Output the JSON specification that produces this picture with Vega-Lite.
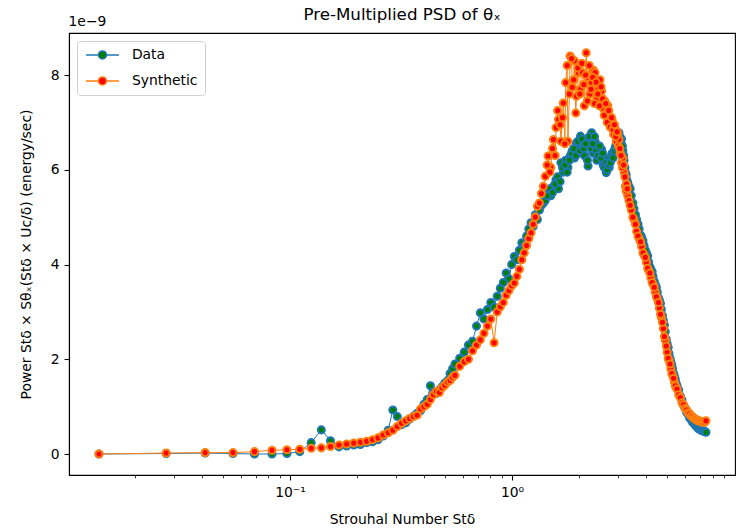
{
"$schema": "https://vega.github.io/schema/vega-lite/v6.json",
"width": 666,
"height": 442,
"autosize": {"type": "none"},
"padding": {"left": 69, "top": 33, "right": 2, "bottom": 54},
"config": {
  "font": "DejaVu Sans",
  "view": {"stroke": "#000000", "strokeWidth": 1.1},
  "axis": {"grid": false, "domainColor": "#000000", "tickColor": "#000000", "labelColor": "#000000", "titleColor": "#000000", "labelFont": "DejaVu Sans", "titleFont": "DejaVu Sans", "labelFontSize": 13.9, "titleFontSize": 13.9, "titleFontWeight": "normal", "tickWidth": 1.1, "domainWidth": 1.1, "tickSize": 5, "labelPadding": 5}
},
"title": {"text": "Pre-Multiplied PSD of θₓ", "font": "DejaVu Sans", "fontSize": 16.7, "fontWeight": "normal", "color": "#000000", "anchor": "middle", "offset": -10},
"data": {"values": [
{"series":"Data","St":0.0138,"power":0.0},{"series":"Data","St":0.0277,"power":0.01},{"series":"Data","St":0.0415,"power":0.02},{"series":"Data","St":0.0554,"power":0.01},{"series":"Data","St":0.0692,"power":0.0},{"series":"Data","St":0.0830,"power":0.0},{"series":"Data","St":0.0969,"power":0.01},{"series":"Data","St":0.1107,"power":0.05},{"series":"Data","St":0.1246,"power":0.24},{"series":"Data","St":0.1384,"power":0.51},{"series":"Data","St":0.1522,"power":0.28},{"series":"Data","St":0.1661,"power":0.15},{"series":"Data","St":0.1799,"power":0.17},{"series":"Data","St":0.1938,"power":0.19},{"series":"Data","St":0.2076,"power":0.20},{"series":"Data","St":0.2214,"power":0.24},{"series":"Data","St":0.2353,"power":0.26},{"series":"Data","St":0.2491,"power":0.30},{"series":"Data","St":0.2630,"power":0.38},{"series":"Data","St":0.2768,"power":0.50},{"series":"Data","St":0.2906,"power":0.93},{"series":"Data","St":0.3045,"power":0.79},{"series":"Data","St":0.3183,"power":0.62},{"series":"Data","St":0.3322,"power":0.66},{"series":"Data","St":0.3460,"power":0.74},{"series":"Data","St":0.3598,"power":0.80},{"series":"Data","St":0.3737,"power":0.86},{"series":"Data","St":0.3875,"power":0.92},{"series":"Data","St":0.4014,"power":1.05},{"series":"Data","St":0.4152,"power":1.15},{"series":"Data","St":0.4290,"power":1.44},{"series":"Data","St":0.4429,"power":1.30},{"series":"Data","St":0.4567,"power":1.28},{"series":"Data","St":0.4706,"power":1.35},{"series":"Data","St":0.4844,"power":1.42},{"series":"Data","St":0.4982,"power":1.50},{"series":"Data","St":0.5121,"power":1.55},{"series":"Data","St":0.5259,"power":1.70},{"series":"Data","St":0.5398,"power":1.80},{"series":"Data","St":0.5536,"power":1.90},
{"series":"Data","St":0.5813,"power":2.02},{"series":"Data","St":0.6090,"power":2.15},{"series":"Data","St":0.6366,"power":2.30},{"series":"Data","St":0.6643,"power":2.38},{"series":"Data","St":0.6920,"power":2.70},{"series":"Data","St":0.7197,"power":2.98},{"series":"Data","St":0.7474,"power":2.85},{"series":"Data","St":0.7750,"power":3.05},{"series":"Data","St":0.8027,"power":3.20},{"series":"Data","St":0.8304,"power":3.10},{"series":"Data","St":0.8581,"power":3.33},{"series":"Data","St":0.8858,"power":3.50},{"series":"Data","St":0.9134,"power":3.62},{"series":"Data","St":0.9411,"power":3.82},{"series":"Data","St":0.9688,"power":3.70},{"series":"Data","St":0.9965,"power":4.00},{"series":"Data","St":1.0242,"power":4.17},{"series":"Data","St":1.0518,"power":4.10},{"series":"Data","St":1.0795,"power":4.30},{"series":"Data","St":1.1072,"power":4.46},{"series":"Data","St":1.1349,"power":4.40},{"series":"Data","St":1.1626,"power":4.60},{"series":"Data","St":1.1902,"power":4.75},{"series":"Data","St":1.2179,"power":4.88},{"series":"Data","St":1.2456,"power":4.80},{"series":"Data","St":1.2733,"power":5.05},{"series":"Data","St":1.3010,"power":4.95},{"series":"Data","St":1.3286,"power":5.15},{"series":"Data","St":1.3563,"power":5.25},{"series":"Data","St":1.3840,"power":5.30},
{"series":"Data","St":1.4117,"power":5.35},{"series":"Data","St":1.4532,"power":5.50},{"series":"Data","St":1.4947,"power":5.45},{"series":"Data","St":1.5362,"power":5.65},{"series":"Data","St":1.5778,"power":5.79},{"series":"Data","St":1.6193,"power":5.60},{"series":"Data","St":1.6608,"power":6.15},{"series":"Data","St":1.7023,"power":5.95},{"series":"Data","St":1.7438,"power":6.20},{"series":"Data","St":1.7854,"power":6.05},{"series":"Data","St":1.8269,"power":6.29},{"series":"Data","St":1.8684,"power":6.40},{"series":"Data","St":1.9099,"power":6.25},{"series":"Data","St":1.9514,"power":6.57},{"series":"Data","St":1.9930,"power":6.45},{"series":"Data","St":2.0345,"power":6.71},{"series":"Data","St":2.0760,"power":6.55},{"series":"Data","St":2.1175,"power":6.30},{"series":"Data","St":2.1590,"power":6.62},{"series":"Data","St":2.2006,"power":6.08},{"series":"Data","St":2.2421,"power":6.50},{"series":"Data","St":2.2836,"power":6.78},{"series":"Data","St":2.3251,"power":6.35},{"series":"Data","St":2.3666,"power":6.60},{"series":"Data","St":2.4082,"power":6.20},{"series":"Data","St":2.4497,"power":6.45},{"series":"Data","St":2.4912,"power":6.30},{"series":"Data","St":2.5327,"power":6.43},{"series":"Data","St":2.5742,"power":6.10},{"series":"Data","St":2.6158,"power":6.25},{"series":"Data","St":2.6573,"power":5.94},{"series":"Data","St":2.6988,"power":6.15},{"series":"Data","St":2.7403,"power":6.05},{"series":"Data","St":2.7818,"power":6.20},{"series":"Data","St":2.8234,"power":6.35},{"series":"Data","St":2.8649,"power":6.30},{"series":"Data","St":2.9064,"power":6.45},{"series":"Data","St":2.9479,"power":6.55},{"series":"Data","St":2.9894,"power":6.40},{"series":"Data","St":3.0310,"power":6.78},{"series":"Data","St":3.0725,"power":6.57},{"series":"Data","St":3.1140,"power":6.65},{"series":"Data","St":3.1555,"power":6.40},{"series":"Data","St":3.1970,"power":6.20},{"series":"Data","St":3.2386,"power":5.95},{"series":"Data","St":3.2801,"power":5.80},{"series":"Data","St":3.3216,"power":5.72},
{"series":"Data","St":1.4394,"power":5.45},{"series":"Data","St":1.4809,"power":5.60},{"series":"Data","St":1.5224,"power":5.52},{"series":"Data","St":1.5639,"power":5.70},{"series":"Data","St":1.6054,"power":5.85},{"series":"Data","St":1.6470,"power":5.75},{"series":"Data","St":1.6885,"power":6.05},{"series":"Data","St":1.7300,"power":6.10},{"series":"Data","St":1.7715,"power":5.95},{"series":"Data","St":1.8130,"power":6.20},{"series":"Data","St":1.8546,"power":6.35},{"series":"Data","St":1.8961,"power":6.45},{"series":"Data","St":1.9376,"power":6.30},{"series":"Data","St":1.9791,"power":6.60},{"series":"Data","St":2.0206,"power":6.40},{"series":"Data","St":2.0622,"power":6.65},{"series":"Data","St":2.1037,"power":6.45},{"series":"Data","St":2.1452,"power":6.55},{"series":"Data","St":2.1867,"power":6.20},{"series":"Data","St":2.2282,"power":6.70},{"series":"Data","St":2.2698,"power":6.45},{"series":"Data","St":2.3113,"power":6.55},{"series":"Data","St":2.3528,"power":6.70},{"series":"Data","St":2.3943,"power":6.40},{"series":"Data","St":2.4358,"power":6.30},{"series":"Data","St":2.4774,"power":6.50},{"series":"Data","St":2.5189,"power":6.25},{"series":"Data","St":2.5604,"power":6.35},{"series":"Data","St":2.6019,"power":6.05},{"series":"Data","St":2.6434,"power":6.15},{"series":"Data","St":2.6850,"power":6.00},{"series":"Data","St":2.7265,"power":6.10},{"series":"Data","St":2.7680,"power":6.15},{"series":"Data","St":2.8095,"power":6.30},{"series":"Data","St":2.8510,"power":6.25},{"series":"Data","St":2.8926,"power":6.40},{"series":"Data","St":2.9341,"power":6.50},{"series":"Data","St":2.9756,"power":6.45},{"series":"Data","St":3.0171,"power":6.60},{"series":"Data","St":3.0586,"power":6.70},{"series":"Data","St":3.1002,"power":6.55},{"series":"Data","St":3.1417,"power":6.50},{"series":"Data","St":3.1832,"power":6.30},{"series":"Data","St":3.2247,"power":6.05},{"series":"Data","St":3.2662,"power":5.90},{"series":"Data","St":3.3078,"power":5.75},
{"series":"Data","St":3.3631,"power":5.65},{"series":"Data","St":3.4462,"power":5.45},{"series":"Data","St":3.5430,"power":5.18},{"series":"Data","St":3.6399,"power":4.95},{"series":"Data","St":3.7368,"power":4.75},{"series":"Data","St":3.8337,"power":4.58},{"series":"Data","St":3.9306,"power":4.40},{"series":"Data","St":4.0274,"power":4.25},{"series":"Data","St":4.1243,"power":4.05},{"series":"Data","St":4.2212,"power":3.90},{"series":"Data","St":4.3181,"power":3.75},{"series":"Data","St":4.4150,"power":3.58},{"series":"Data","St":4.5118,"power":3.42},{"series":"Data","St":4.6087,"power":3.25},{"series":"Data","St":4.7056,"power":3.05},{"series":"Data","St":4.8025,"power":2.82},{"series":"Data","St":4.8994,"power":2.58},{"series":"Data","St":4.9962,"power":2.33},{"series":"Data","St":5.0931,"power":2.12},{"series":"Data","St":5.1900,"power":1.95},{"series":"Data","St":5.2869,"power":1.80},{"series":"Data","St":5.3838,"power":1.65},{"series":"Data","St":5.4806,"power":1.50},
{"series":"Data","St":3.4046,"power":5.60},{"series":"Data","St":3.5015,"power":5.30},{"series":"Data","St":3.5984,"power":5.05},{"series":"Data","St":3.6953,"power":4.85},{"series":"Data","St":3.7922,"power":4.62},{"series":"Data","St":3.8890,"power":4.50},{"series":"Data","St":3.9859,"power":4.30},{"series":"Data","St":4.0828,"power":4.18},{"series":"Data","St":4.1797,"power":3.95},{"series":"Data","St":4.2766,"power":3.85},{"series":"Data","St":4.3734,"power":3.64},{"series":"Data","St":4.4703,"power":3.52},{"series":"Data","St":4.5672,"power":3.30},{"series":"Data","St":4.6641,"power":3.18},{"series":"Data","St":4.7610,"power":2.92},{"series":"Data","St":4.8578,"power":2.72},{"series":"Data","St":4.9547,"power":2.42},{"series":"Data","St":5.0516,"power":2.25},{"series":"Data","St":5.1485,"power":2.02},{"series":"Data","St":5.2454,"power":1.88},{"series":"Data","St":5.3422,"power":1.70},{"series":"Data","St":5.4391,"power":1.58},{"series":"Data","St":5.5360,"power":1.44},{"series":"Data","St":5.6329,"power":1.35},{"series":"Data","St":5.7298,"power":1.22},{"series":"Data","St":5.8266,"power":1.14},{"series":"Data","St":5.9235,"power":1.03},{"series":"Data","St":6.0204,"power":0.97},{"series":"Data","St":6.1173,"power":0.88},{"series":"Data","St":6.2142,"power":0.84},{"series":"Data","St":6.3110,"power":0.76},{"series":"Data","St":6.4079,"power":0.73},{"series":"Data","St":6.5048,"power":0.67},{"series":"Data","St":6.6017,"power":0.65},{"series":"Data","St":6.6986,"power":0.60},{"series":"Data","St":6.7954,"power":0.58},{"series":"Data","St":6.8923,"power":0.54},{"series":"Data","St":6.9892,"power":0.53},{"series":"Data","St":7.0861,"power":0.50},{"series":"Data","St":7.1830,"power":0.50},{"series":"Data","St":7.2798,"power":0.48},{"series":"Data","St":7.3767,"power":0.48},{"series":"Data","St":7.4736,"power":0.46},
{"series":"Synthetic","St":0.0138,"power":0.0},{"series":"Synthetic","St":0.0277,"power":0.02},{"series":"Synthetic","St":0.0415,"power":0.03},{"series":"Synthetic","St":0.0554,"power":0.03},{"series":"Synthetic","St":0.0692,"power":0.05},{"series":"Synthetic","St":0.0830,"power":0.08},{"series":"Synthetic","St":0.0969,"power":0.09},{"series":"Synthetic","St":0.1107,"power":0.10},{"series":"Synthetic","St":0.1246,"power":0.12},{"series":"Synthetic","St":0.1384,"power":0.13},{"series":"Synthetic","St":0.1522,"power":0.16},{"series":"Synthetic","St":0.1661,"power":0.19},{"series":"Synthetic","St":0.1799,"power":0.21},{"series":"Synthetic","St":0.1938,"power":0.23},{"series":"Synthetic","St":0.2076,"power":0.25},{"series":"Synthetic","St":0.2214,"power":0.27},{"series":"Synthetic","St":0.2353,"power":0.30},{"series":"Synthetic","St":0.2491,"power":0.34},{"series":"Synthetic","St":0.2630,"power":0.40},{"series":"Synthetic","St":0.2768,"power":0.45},{"series":"Synthetic","St":0.2906,"power":0.50},{"series":"Synthetic","St":0.3045,"power":0.58},{"series":"Synthetic","St":0.3183,"power":0.65},{"series":"Synthetic","St":0.3322,"power":0.70},{"series":"Synthetic","St":0.3460,"power":0.75},{"series":"Synthetic","St":0.3598,"power":0.79},{"series":"Synthetic","St":0.3737,"power":0.82},{"series":"Synthetic","St":0.3875,"power":0.95},{"series":"Synthetic","St":0.4014,"power":1.00},{"series":"Synthetic","St":0.4152,"power":1.05},{"series":"Synthetic","St":0.4290,"power":1.15},{"series":"Synthetic","St":0.4429,"power":1.25},{"series":"Synthetic","St":0.4567,"power":1.32},{"series":"Synthetic","St":0.4706,"power":1.30},{"series":"Synthetic","St":0.4844,"power":1.40},{"series":"Synthetic","St":0.4982,"power":1.45},{"series":"Synthetic","St":0.5121,"power":1.52},{"series":"Synthetic","St":0.5259,"power":1.55},{"series":"Synthetic","St":0.5398,"power":1.62},{"series":"Synthetic","St":0.5536,"power":1.66},
{"series":"Synthetic","St":0.5813,"power":1.85},{"series":"Synthetic","St":0.6090,"power":1.95},{"series":"Synthetic","St":0.6366,"power":2.00},{"series":"Synthetic","St":0.6643,"power":2.18},{"series":"Synthetic","St":0.6920,"power":2.30},{"series":"Synthetic","St":0.7197,"power":2.41},{"series":"Synthetic","St":0.7474,"power":2.55},{"series":"Synthetic","St":0.7750,"power":2.70},{"series":"Synthetic","St":0.8027,"power":2.85},{"series":"Synthetic","St":0.8304,"power":2.35},{"series":"Synthetic","St":0.8581,"power":3.00},{"series":"Synthetic","St":0.8858,"power":3.11},{"series":"Synthetic","St":0.9134,"power":3.20},{"series":"Synthetic","St":0.9411,"power":3.35},{"series":"Synthetic","St":0.9688,"power":3.45},{"series":"Synthetic","St":0.9965,"power":3.55},{"series":"Synthetic","St":1.0242,"power":3.61},{"series":"Synthetic","St":1.0518,"power":3.75},{"series":"Synthetic","St":1.0795,"power":3.90},{"series":"Synthetic","St":1.1072,"power":4.10},{"series":"Synthetic","St":1.1349,"power":4.25},{"series":"Synthetic","St":1.1626,"power":4.40},{"series":"Synthetic","St":1.1902,"power":4.55},{"series":"Synthetic","St":1.2179,"power":4.67},{"series":"Synthetic","St":1.2456,"power":4.85},{"series":"Synthetic","St":1.2733,"power":5.00},{"series":"Synthetic","St":1.3010,"power":5.23},{"series":"Synthetic","St":1.3286,"power":5.30},{"series":"Synthetic","St":1.3563,"power":5.50},{"series":"Synthetic","St":1.3840,"power":5.65},
{"series":"Synthetic","St":1.4117,"power":5.86},{"series":"Synthetic","St":1.4532,"power":6.29},{"series":"Synthetic","St":1.4947,"power":6.05},{"series":"Synthetic","St":1.5362,"power":6.64},{"series":"Synthetic","St":1.5778,"power":6.89},{"series":"Synthetic","St":1.6193,"power":7.06},{"series":"Synthetic","St":1.6608,"power":6.60},{"series":"Synthetic","St":1.7023,"power":7.41},{"series":"Synthetic","St":1.7438,"power":7.84},{"series":"Synthetic","St":1.7854,"power":6.60},{"series":"Synthetic","St":1.8269,"power":8.40},{"series":"Synthetic","St":1.8684,"power":7.74},{"series":"Synthetic","St":1.9099,"power":8.30},{"series":"Synthetic","St":1.9514,"power":7.55},{"series":"Synthetic","St":1.9930,"power":8.05},{"series":"Synthetic","St":2.0345,"power":7.70},{"series":"Synthetic","St":2.0760,"power":8.05},{"series":"Synthetic","St":2.1175,"power":7.35},{"series":"Synthetic","St":2.1590,"power":8.47},{"series":"Synthetic","St":2.2006,"power":7.95},{"series":"Synthetic","St":2.2421,"power":7.60},{"series":"Synthetic","St":2.2836,"power":7.84},{"series":"Synthetic","St":2.3251,"power":8.10},{"series":"Synthetic","St":2.3666,"power":8.05},{"series":"Synthetic","St":2.4082,"power":7.50},{"series":"Synthetic","St":2.4497,"power":7.70},{"series":"Synthetic","St":2.4912,"power":7.90},{"series":"Synthetic","St":2.5327,"power":7.66},{"series":"Synthetic","St":2.5742,"power":7.30},{"series":"Synthetic","St":2.6158,"power":7.45},{"series":"Synthetic","St":2.6573,"power":7.20},{"series":"Synthetic","St":2.6988,"power":7.35},{"series":"Synthetic","St":2.7403,"power":7.13},{"series":"Synthetic","St":2.7818,"power":6.95},{"series":"Synthetic","St":2.8234,"power":7.05},{"series":"Synthetic","St":2.8649,"power":6.75},{"series":"Synthetic","St":2.9064,"power":6.89},{"series":"Synthetic","St":2.9479,"power":6.60},{"series":"Synthetic","St":2.9894,"power":6.75},{"series":"Synthetic","St":3.0310,"power":6.64},{"series":"Synthetic","St":3.0725,"power":6.35},{"series":"Synthetic","St":3.1140,"power":6.15},{"series":"Synthetic","St":3.1555,"power":6.25},{"series":"Synthetic","St":3.1970,"power":5.95},{"series":"Synthetic","St":3.2386,"power":5.65},{"series":"Synthetic","St":3.2801,"power":5.70},{"series":"Synthetic","St":3.3216,"power":5.45},
{"series":"Synthetic","St":1.4394,"power":6.10},{"series":"Synthetic","St":1.4809,"power":5.95},{"series":"Synthetic","St":1.5224,"power":6.45},{"series":"Synthetic","St":1.5639,"power":6.30},{"series":"Synthetic","St":1.6054,"power":7.25},{"series":"Synthetic","St":1.6470,"power":6.95},{"series":"Synthetic","St":1.6885,"power":7.10},{"series":"Synthetic","St":1.7300,"power":6.55},{"series":"Synthetic","St":1.7715,"power":8.20},{"series":"Synthetic","St":1.8130,"power":7.60},{"series":"Synthetic","St":1.8546,"power":8.35},{"series":"Synthetic","St":1.8961,"power":7.90},{"series":"Synthetic","St":1.9376,"power":7.20},{"series":"Synthetic","St":1.9791,"power":8.15},{"series":"Synthetic","St":2.0206,"power":7.60},{"series":"Synthetic","St":2.0622,"power":8.25},{"series":"Synthetic","St":2.1037,"power":7.80},{"series":"Synthetic","St":2.1452,"power":8.00},{"series":"Synthetic","St":2.1867,"power":7.45},{"series":"Synthetic","St":2.2282,"power":8.20},{"series":"Synthetic","St":2.2698,"power":7.70},{"series":"Synthetic","St":2.3113,"power":7.95},{"series":"Synthetic","St":2.3528,"power":7.40},{"series":"Synthetic","St":2.3943,"power":7.85},{"series":"Synthetic","St":2.4358,"power":7.60},{"series":"Synthetic","St":2.4774,"power":7.35},{"series":"Synthetic","St":2.5189,"power":7.75},{"series":"Synthetic","St":2.5604,"power":7.50},{"series":"Synthetic","St":2.6019,"power":7.15},{"series":"Synthetic","St":2.6434,"power":7.40},{"series":"Synthetic","St":2.6850,"power":7.00},{"series":"Synthetic","St":2.7265,"power":7.25},{"series":"Synthetic","St":2.7680,"power":6.90},{"series":"Synthetic","St":2.8095,"power":7.10},{"series":"Synthetic","St":2.8510,"power":6.85},{"series":"Synthetic","St":2.8926,"power":6.95},{"series":"Synthetic","St":2.9341,"power":6.70},{"series":"Synthetic","St":2.9756,"power":6.80},{"series":"Synthetic","St":3.0171,"power":6.50},{"series":"Synthetic","St":3.0586,"power":6.45},{"series":"Synthetic","St":3.1002,"power":6.30},{"series":"Synthetic","St":3.1417,"power":6.05},{"series":"Synthetic","St":3.1832,"power":6.10},{"series":"Synthetic","St":3.2247,"power":5.85},{"series":"Synthetic","St":3.2662,"power":5.55},{"series":"Synthetic","St":3.3078,"power":5.60},
{"series":"Synthetic","St":3.3631,"power":5.35},{"series":"Synthetic","St":3.4462,"power":5.15},{"series":"Synthetic","St":3.5430,"power":4.95},{"series":"Synthetic","St":3.6399,"power":4.70},{"series":"Synthetic","St":3.7368,"power":4.55},{"series":"Synthetic","St":3.8337,"power":4.38},{"series":"Synthetic","St":3.9306,"power":4.20},{"series":"Synthetic","St":4.0274,"power":4.05},{"series":"Synthetic","St":4.1243,"power":3.88},{"series":"Synthetic","St":4.2212,"power":3.72},{"series":"Synthetic","St":4.3181,"power":3.58},{"series":"Synthetic","St":4.4150,"power":3.42},{"series":"Synthetic","St":4.5118,"power":3.28},{"series":"Synthetic","St":4.6087,"power":3.08},{"series":"Synthetic","St":4.7056,"power":2.88},{"series":"Synthetic","St":4.8025,"power":2.65},{"series":"Synthetic","St":4.8994,"power":2.40},{"series":"Synthetic","St":4.9962,"power":2.15},{"series":"Synthetic","St":5.0931,"power":1.98},{"series":"Synthetic","St":5.1900,"power":1.80},{"series":"Synthetic","St":5.2869,"power":1.66},{"series":"Synthetic","St":5.3838,"power":1.52},{"series":"Synthetic","St":5.4806,"power":1.41},
{"series":"Synthetic","St":3.4046,"power":5.25},{"series":"Synthetic","St":3.5015,"power":5.00},{"series":"Synthetic","St":3.5984,"power":4.85},{"series":"Synthetic","St":3.6953,"power":4.60},{"series":"Synthetic","St":3.7922,"power":4.48},{"series":"Synthetic","St":3.8890,"power":4.25},{"series":"Synthetic","St":3.9859,"power":4.15},{"series":"Synthetic","St":4.0828,"power":3.92},{"series":"Synthetic","St":4.1797,"power":3.82},{"series":"Synthetic","St":4.2766,"power":3.62},{"series":"Synthetic","St":4.3734,"power":3.52},{"series":"Synthetic","St":4.4703,"power":3.32},{"series":"Synthetic","St":4.5672,"power":3.20},{"series":"Synthetic","St":4.6641,"power":2.95},{"series":"Synthetic","St":4.7610,"power":2.78},{"series":"Synthetic","St":4.8578,"power":2.48},{"series":"Synthetic","St":4.9547,"power":2.28},{"series":"Synthetic","St":5.0516,"power":2.02},{"series":"Synthetic","St":5.1485,"power":1.90},{"series":"Synthetic","St":5.2454,"power":1.70},{"series":"Synthetic","St":5.3422,"power":1.60},{"series":"Synthetic","St":5.4391,"power":1.44},{"series":"Synthetic","St":5.5360,"power":1.37},{"series":"Synthetic","St":5.6329,"power":1.25},{"series":"Synthetic","St":5.7298,"power":1.19},{"series":"Synthetic","St":5.8266,"power":1.08},{"series":"Synthetic","St":5.9235,"power":1.04},{"series":"Synthetic","St":6.0204,"power":0.96},{"series":"Synthetic","St":6.1173,"power":0.93},{"series":"Synthetic","St":6.2142,"power":0.87},{"series":"Synthetic","St":6.3110,"power":0.85},{"series":"Synthetic","St":6.4079,"power":0.80},{"series":"Synthetic","St":6.5048,"power":0.79},{"series":"Synthetic","St":6.6017,"power":0.75},{"series":"Synthetic","St":6.6986,"power":0.74},{"series":"Synthetic","St":6.7954,"power":0.71},{"series":"Synthetic","St":6.8923,"power":0.71},{"series":"Synthetic","St":6.9892,"power":0.69},{"series":"Synthetic","St":7.0861,"power":0.69},{"series":"Synthetic","St":7.1830,"power":0.67},{"series":"Synthetic","St":7.2798,"power":0.68},{"series":"Synthetic","St":7.3767,"power":0.67},{"series":"Synthetic","St":7.4736,"power":0.70}
]},
"layer": [
  {
    "transform": [{"filter": "datum.series === 'Data'"}],
    "mark": {"type": "line", "color": "#1f77b4", "strokeWidth": 1},
    "encoding": {
      "x": {"field": "St", "type": "quantitative", "scale": {"type": "log", "domain": [0.01011, 10.1], "nice": false},
        "axis": {"orient": "bottom", "values": [0.1, 1], "labelExpr": "datum.value < 0.5 ? '10⁻¹' : '10⁰'", "title": "Strouhal Number Stδ", "titlePadding": 14}},
      "y": {"field": "power", "type": "quantitative", "scale": {"domain": [-0.443, 8.887], "nice": false, "zero": false},
        "axis": {"orient": "left", "values": [0, 2, 4, 6, 8], "format": "d", "title": "Power Stδ × Sθₓ(Stδ × Uc/δ) (energy/sec)", "titlePadding": 17}}
    }
  },
  {
    "transform": [{"filter": "datum.series === 'Data'"}],
    "mark": {"type": "circle", "size": 50, "strokeWidth": 2, "opacity": 1},
    "encoding": {
      "x": {"field": "St", "type": "quantitative", "scale": {"type": "log", "domain": [0.01011, 10.1], "nice": false},
        "axis": {"orient": "bottom", "values": [0.02, 0.03, 0.04, 0.05, 0.06, 0.07, 0.08, 0.09, 0.2, 0.3, 0.4, 0.5, 0.6, 0.7, 0.8, 0.9, 2, 3, 4, 5, 6, 7, 8, 9], "labels": false, "domain": false, "title": null, "tickSize": 2.8, "tickWidth": 0.8}},
      "y": {"field": "power", "type": "quantitative", "scale": {"domain": [-0.443, 8.887], "nice": false, "zero": false},
        "axis": {"orient": "left", "values": [], "labels": false, "ticks": false, "domain": false, "title": "1e−9", "titleAngle": 0, "titleAlign": "left", "titleBaseline": "alphabetic", "titleX": -1, "titleY": -8}},
      "fill": {"field": "series", "type": "nominal", "scale": {"domain": ["Data", "Synthetic"], "range": ["#008000", "#ff0000"]},
        "legend": {"title": null, "orient": "top-left", "offset": 8, "symbolType": "M-1,0L1.5,0M3.1,0L5.6,0M1.5,0A0.8,0.8 0 1,1 3.1,0A0.8,0.8 0 1,1 1.5,0Z", "symbolSize": 100, "symbolStrokeWidth": 1.5, "labelFont": "DejaVu Sans", "labelFontSize": 13.9, "labelColor": "#000000", "labelOffset": 34, "labelExpr": "datum.label + '\u00a0\u00a0\u00a0\u00a0'", "fillColor": "#ffffff", "strokeColor": "#d0d0d0", "cornerRadius": 3, "padding": 7, "rowPadding": 11}},
      "stroke": {"field": "series", "type": "nominal", "scale": {"domain": ["Data", "Synthetic"], "range": ["#1f77b4", "#ff7f0e"]},
        "legend": {"title": null, "orient": "top-left", "offset": 8, "symbolType": "M-1,0L1.5,0M3.1,0L5.6,0M1.5,0A0.8,0.8 0 1,1 3.1,0A0.8,0.8 0 1,1 1.5,0Z", "symbolSize": 100, "symbolStrokeWidth": 1.5, "labelFont": "DejaVu Sans", "labelFontSize": 13.9, "labelColor": "#000000", "labelOffset": 34, "labelExpr": "datum.label + '\u00a0\u00a0\u00a0\u00a0'", "fillColor": "#ffffff", "strokeColor": "#d0d0d0", "cornerRadius": 3, "padding": 7, "rowPadding": 11}}
    }
  },
  {
    "transform": [{"filter": "datum.series === 'Synthetic'"}],
    "mark": {"type": "line", "color": "#ff7f0e", "strokeWidth": 1},
    "encoding": {
      "x": {"field": "St", "type": "quantitative", "scale": {"type": "log", "domain": [0.01011, 10.1], "nice": false}, "axis": null},
      "y": {"field": "power", "type": "quantitative", "scale": {"domain": [-0.443, 8.887], "nice": false, "zero": false}, "axis": null}
    }
  },
  {
    "transform": [{"filter": "datum.series === 'Synthetic'"}],
    "mark": {"type": "circle", "size": 50, "strokeWidth": 2, "opacity": 1},
    "encoding": {
      "x": {"field": "St", "type": "quantitative", "scale": {"type": "log", "domain": [0.01011, 10.1], "nice": false}, "axis": null},
      "y": {"field": "power", "type": "quantitative", "scale": {"domain": [-0.443, 8.887], "nice": false, "zero": false}, "axis": null},
      "fill": {"field": "series", "type": "nominal", "scale": {"domain": ["Data", "Synthetic"], "range": ["#008000", "#ff0000"]}},
      "stroke": {"field": "series", "type": "nominal", "scale": {"domain": ["Data", "Synthetic"], "range": ["#1f77b4", "#ff7f0e"]}}
    }
  }
],
"resolve": {"axis": {"x": "independent", "y": "independent"}}
}
